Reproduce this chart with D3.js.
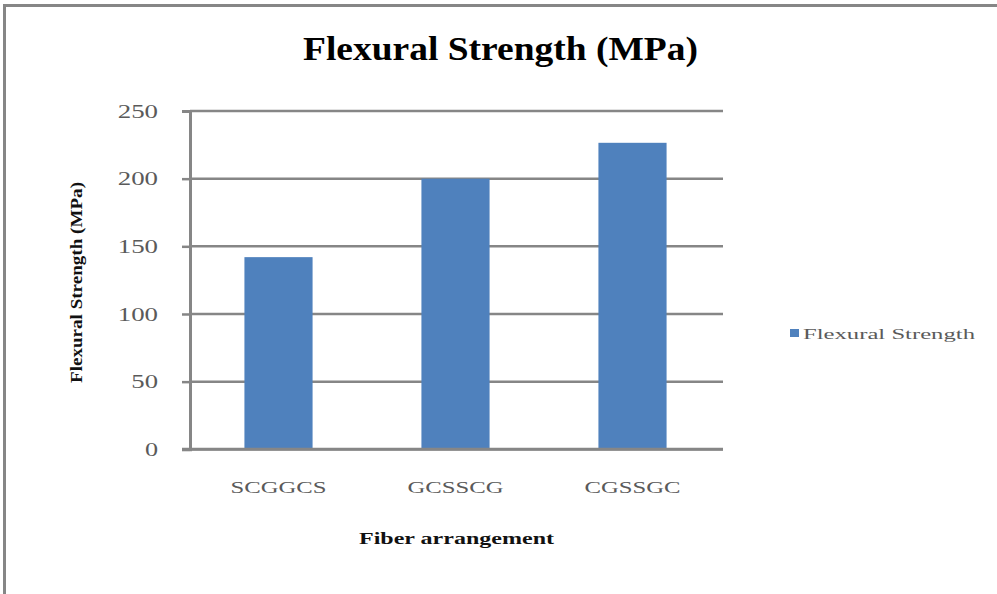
<!DOCTYPE html>
<html>
<head>
<meta charset="utf-8">
<script src="https://cdn.jsdelivr.net/npm/d3@7"></script>
<style>
  html, body { margin: 0; padding: 0; background: #fff; }
  svg { display: block; }
  text { font-family: "Liberation Serif", "Times New Roman", serif; }
</style>
</head>
<body>
<svg id="chart" width="997" height="594"></svg>
<script>
const categories = ["SCGGCS", "GCSSCG", "CGSSGC"];
const values = [142, 200, 226.5];
const yTicks = [0, 50, 100, 150, 200, 250];
const seriesName = "Flexural Strength";
const chartTitle = "Flexural Strength (MPa)";
const yTitle = "Flexural Strength (MPa)";
const xTitle = "Fiber arrangement";

const svg = d3.select("#chart");
const gridColor = "#868686";

// outer border (top and left visible)
svg.append("line").attr("x1", 4.5).attr("x2", 1000).attr("y1", 5.5).attr("y2", 5.5)
  .attr("stroke", gridColor).attr("stroke-width", 3);
svg.append("line").attr("x1", 4.5).attr("x2", 4.5).attr("y1", 4).attr("y2", 600)
  .attr("stroke", gridColor).attr("stroke-width", 3);

const plotLeft = 190, plotRight = 721, gridRight = 723;
const y = d3.scaleLinear().domain([0, 250]).range([449.3, 111]);
const x = d3.scaleBand().domain(categories).range([plotLeft, plotRight])
  .paddingInner(0.615).paddingOuter(0.3075);

// gridlines
svg.append("g").selectAll("line").data(yTicks).join("line")
  .attr("x1", plotLeft).attr("x2", gridRight)
  .attr("y1", d => y(d)).attr("y2", d => y(d))
  .attr("stroke", gridColor).attr("stroke-width", 2.5);

// bars
svg.append("g").selectAll("rect").data(values).join("rect")
  .attr("x", (d, i) => x(categories[i]))
  .attr("width", x.bandwidth())
  .attr("y", d => y(d))
  .attr("height", d => y(0) - y(d))
  .attr("fill", "#4F81BD");

// y axis
const yAxis = d3.axisLeft(y).tickValues(yTicks).tickSize(8).tickPadding(24)
  .tickFormat(d3.format("d"));
const gy = svg.append("g").attr("transform", `translate(${plotLeft},0)`).call(yAxis);
gy.select(".domain").attr("stroke", gridColor).attr("stroke-width", 3);
gy.selectAll(".tick line").attr("stroke", gridColor).attr("stroke-width", 2.5);
gy.selectAll(".tick text")
  .attr("font-family", "Liberation Serif")
  .attr("font-size", 19).attr("fill", "#5a5a5a")
  .attr("textLength", d => String(d).length * 13.6 - 0.5)
  .attr("lengthAdjust", "spacingAndGlyphs");

// x axis line along 0
svg.append("line").attr("x1", 182).attr("x2", gridRight).attr("y1", y(0)).attr("y2", y(0))
  .attr("stroke", gridColor).attr("stroke-width", 3);

// x category labels
const xAxis = d3.axisBottom(x).tickSize(0).tickPadding(0);
const gx = svg.append("g").attr("transform", `translate(0,${y(0)})`).call(xAxis);
gx.select(".domain").remove();
gx.selectAll(".tick text")
  .attr("font-family", "Liberation Serif")
  .attr("font-size", 16).attr("fill", "#5a5a5a")
  .attr("dy", null).attr("y", 43.5)
  .attr("textLength", 96).attr("lengthAdjust", "spacingAndGlyphs");

// title
svg.append("text").attr("x", 500.5).attr("y", 60).attr("text-anchor", "middle")
  .attr("font-size", 34).attr("font-weight", "bold").attr("fill", "#000")
  .attr("textLength", 395).attr("lengthAdjust", "spacingAndGlyphs")
  .text(chartTitle);

// y title
svg.append("text").attr("transform", "translate(82,282.5) rotate(-90)")
  .attr("text-anchor", "middle").attr("font-size", 16).attr("font-weight", "bold")
  .attr("fill", "#111")
  .attr("textLength", 201).attr("lengthAdjust", "spacingAndGlyphs")
  .text(yTitle);

// x title
svg.append("text").attr("x", 456.5).attr("y", 544).attr("text-anchor", "middle")
  .attr("font-size", 16).attr("font-weight", "bold").attr("fill", "#111")
  .attr("textLength", 195).attr("lengthAdjust", "spacingAndGlyphs")
  .text(xTitle);

// legend
const lg = svg.append("g");
lg.append("rect").attr("x", 790).attr("y", 329).attr("width", 9).attr("height", 8)
  .attr("fill", "#4F81BD");
lg.append("text").attr("x", 803).attr("y", 338.5)
  .attr("font-size", 15).attr("fill", "#5a5a5a")
  .attr("textLength", 172).attr("lengthAdjust", "spacingAndGlyphs")
  .text(seriesName);
</script>
</body>
</html>
